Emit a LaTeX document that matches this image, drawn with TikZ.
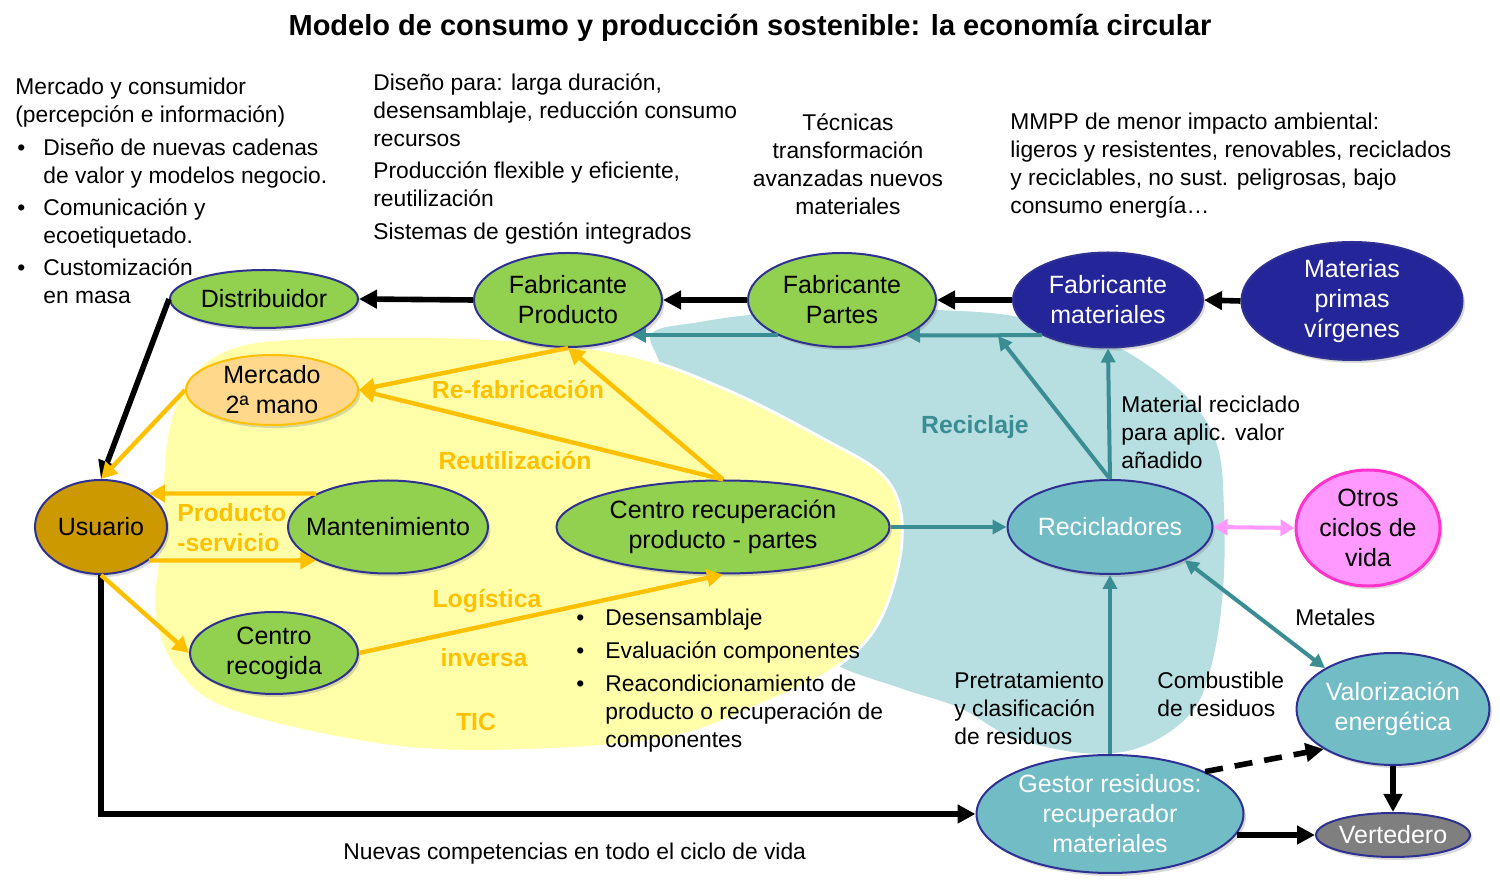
\documentclass[tikz,border=0pt]{standalone}
\usepackage{fontspec}
\setmainfont{Liberation Sans}
\usetikzlibrary{arrows.meta,shapes.geometric,shadows}
\definecolor{green1}{HTML}{92D050}
\definecolor{navy}{HTML}{2E3192}
\definecolor{dblue}{HTML}{25259A}
\definecolor{teal1}{HTML}{71BCC5}
\definecolor{tealline}{HTML}{3A8D93}
\definecolor{orange1}{HTML}{FFC000}
\definecolor{yellowbg}{HTML}{FFFFAA}
\definecolor{bluebg}{HTML}{B7DEE1}
\definecolor{mercfill}{HTML}{FFD88C}
\definecolor{usu}{HTML}{CC9900}
\definecolor{pinkfill}{HTML}{FF99FF}
\definecolor{pinkborder}{HTML}{FF33CC}
\definecolor{grayv}{HTML}{7F7F7F}
\begin{document}
\begin{tikzpicture}[x=0.5pt,y=-0.5pt,
  ell/.style={ellipse,inner sep=0pt,line width=1pt,draw=navy,drop shadow={opacity=0.3,shadow xshift=1.2pt,shadow yshift=-1.5pt}},
  gr/.style={ell,fill=green1},
  db/.style={ell,fill=dblue},
  tl/.style={ell,fill=teal1},
  lbl/.style={inner sep=0pt,align=center,font=\fontsize{12.5}{15}\selectfont},
  wlbl/.style={lbl,text=white},
  txt/.style={inner sep=0pt,align=left,anchor=north west,font=\fontsize{11.4}{13.9}\selectfont},
  ctxt/.style={txt,align=center,anchor=north},
  olbl/.style={inner sep=0pt,font=\fontsize{12.4}{15}\selectfont\bfseries,text=orange1},
  blk/.style={line width=2.8pt,-{Triangle[length=9pt,width=9pt]}},
  tla/.style={line width=2pt,draw=tealline,-{Triangle[length=7pt,width=7pt]}},
  ora/.style={line width=2.2pt,draw=orange1,-{Triangle[length=8pt,width=8.5pt]}},
]
\useasboundingbox (0,0) rectangle (1500,886);

% background blobs
\fill[bluebg] plot[smooth cycle,tension=0.6] coordinates {(652,333) (700,322) (760,314) (850,309) (937,310) (1013,316) (1080,335) (1127,352) (1187,397) (1217,445) (1224,510) (1223,590) (1212,663) (1191,713) (1141,747) (1083,753) (1012,737) (960,708) (900,688) (833,663) (780,620) (700,520) (670,420) (660,365)};
\filldraw[fill=yellowbg,draw=white,line width=1.5pt] plot[smooth cycle,tension=0.6] coordinates {(166,440) (185,385) (225,350) (300,338) (480,338) (620,353) (720,387) (820,437) (887,480) (902,540) (880,620) (835,668) (760,705) (673,737) (540,750) (395,747) (237,713) (178,673) (154,613) (160,540)};

% title
\node[inner sep=0pt,font=\fontsize{14.5}{17}\selectfont\bfseries] (title) at (750,28) {Modelo de consumo y producción sostenible: la economía circular};

% top texts
\node[txt] (t1) at (15,75) {\strut Mercado y consumidor\\(percepción e información)};
\node[txt] (b1) at (17,136) {\strut •};
\node[txt] (t2) at (43,136) {\strut Diseño de nuevas cadenas\\de valor y modelos negocio.};
\node[txt] (b2) at (17,196) {\strut •};
\node[txt] (t3) at (43,196) {\strut Comunicación y\\ecoetiquetado.};
\node[txt] (b3) at (17,256) {\strut •};
\node[txt] (t4) at (43,256) {\strut Customización\\en masa};

\node[txt] (t5) at (373,71) {\strut Diseño para: larga duración,\\desensamblaje, reducción consumo\\recursos};
\node[txt] (t6) at (373,159) {\strut Producción flexible y eficiente,\\reutilización};
\node[txt] (t7) at (373,220) {\strut Sistemas de gestión integrados};
\node[ctxt] (t8) at (848,111) {\strut Técnicas\\transformación\\avanzadas nuevos\\materiales};
\node[txt] (t9) at (1010,110) {\strut MMPP de menor impacto ambiental:\\ligeros y resistentes, renovables, reciclados\\y reciclables, no sust. peligrosas, bajo\\consumo energía…};

% nodes
\node[gr,minimum width=94pt,minimum height=29pt] (dist) at (264,299) {};
\node[lbl] at (dist.center) {Distribuidor};
\node[gr,minimum width=94pt,minimum height=47pt] (fp) at (568,300) {};
\node[lbl] at (fp.center) {Fabricante\\Producto};
\node[gr,minimum width=94pt,minimum height=47pt] (fpa) at (842,300) {};
\node[lbl] at (fpa.center) {Fabricante\\Partes};
\node[db,minimum width=95pt,minimum height=47.5pt] (fm) at (1108,300) {};
\node[wlbl] at (fm.center) {Fabricante\\materiales};
\node[db,minimum width=110.5pt,minimum height=59pt] (mp) at (1352,301) {};
\node[wlbl] at (mp.center) {Materias\\primas\\vírgenes};
\node[ell,fill=mercfill,draw=orange1,minimum width=86pt,minimum height=35pt] (merc) at (272,390) {};
\node[lbl] at (merc.center) {Mercado\\2ª mano};
\node[ell,fill=usu,minimum width=66pt,minimum height=47pt] (usu) at (101,527) {};
\node[lbl] at (usu.center) {Usuario};
\node[gr,minimum width=100pt,minimum height=46.5pt] (mant) at (388,527) {};
\node[lbl] at (mant.center) {Mantenimiento};
\node[gr,minimum width=166.5pt,minimum height=46.5pt] (crec) at (723,527) {};
\node[lbl] at (crec.center) {Centro recuperación\\producto - partes};
\node[gr,minimum width=84pt,minimum height=41pt] (crecog) at (274,653) {};
\node[lbl] at (crecog.center) {Centro\\recogida};
\node[tl,minimum width=102.5pt,minimum height=47pt] (recic) at (1110,527) {};
\node[wlbl] at (recic.center) {Recicladores};
\node[ell,fill=pinkfill,draw=pinkborder,line width=1.5pt,minimum width=72pt,minimum height=58pt] (otros) at (1368,528) {};
\node[lbl] at (otros.center) {Otros\\ciclos de\\vida};
\node[tl,minimum width=96.5pt,minimum height=56pt] (valor) at (1393,709) {};
\node[wlbl] at (valor.center) {Valorización\\energética};
\node[tl,minimum width=133.5pt,minimum height=59pt] (gestor) at (1110,814) {};
\node[wlbl] at (gestor.center) {Gestor residuos:\\recuperador\\materiales};
\node[ell,fill=grayv,minimum width=77pt,minimum height=22pt] (vert) at (1393,835) {};
\node[wlbl] at (vert.center) {Vertedero};

% black arrows
\draw[blk] (fp.west) -- (dist.east);
\draw[blk] (fpa.west) -- (fp.east);
\draw[blk] (fm.west) -- (fpa.east);
\draw[blk] (mp.west) -- (fm.east);
\draw[blk] (dist.west) -- (usu.north);
\draw[blk] (usu.south) |- (gestor.west);
\draw[blk] (valor.south) -- (vert.north);
\draw[blk] (vert.west -| gestor.-9.5) -- (vert.west);
\draw[blk,dash pattern=on 9pt off 6pt] (gestor.24) -- (valor.210);

% teal arrows
\coordinate (rt) at (998,336);
\draw[tla] (fm.208.6) -- (fpa.331);
\draw[tla] (fpa.209) -- (fp.331);
\draw[tla] (recic.north) -- (rt);
\draw[tla] (recic.north) -- (fm.south);
\draw[tla] (crec.east) -- (recic.west);
\draw[tla] (gestor.north) -- (recic.south);
\draw[line width=2pt,draw=tealline,{Triangle[length=7pt,width=7pt]}-{Triangle[length=7pt,width=7pt]}] (recic.-24) -- (valor.149);
\draw[line width=2pt,draw=pinkfill,{Triangle[length=7pt,width=8pt]}-{Triangle[length=7pt,width=8pt]}] (recic.east) -- (otros.west);

% orange arrows
\draw[ora] (fp.south) -- (merc.east);
\draw[ora] (crec.north) -- (merc.east);
\draw[ora] (crec.north) -- (fp.south);
\draw[ora] (merc.west) -- (usu.north);
\draw[ora] (mant.155) -- (usu.35);
\draw[ora] (usu.-35) -- (mant.-155);
\draw[ora] (usu.south) -- (crecog.west);
\draw[ora] (crecog.east) -- (crec.south);

% orange labels
\node[olbl] (l1) at (518,390) {Re-fabricación};
\node[olbl] (l2) at (515,461) {Reutilización};
\node[olbl,anchor=west] (l3) at (177,513) {Producto};
\node[olbl,anchor=west] (l4) at (177,543) {-servicio};
\node[olbl] (l5) at (487,601) {Logística};
\node[olbl] (l6) at (484,658) {inversa};
\node[olbl] (l7) at (476,722) {TIC};
\node[olbl,text=tealline] (l8) at (975,427) {Reciclaje};

% other texts
\node[txt] (t10) at (1121,393) {\strut Material reciclado\\para aplic. valor\\añadido};
\node[txt] (t11) at (1295,606) {\strut Metales};
\node[txt] (t12) at (954,669) {\strut Pretratamiento\\y clasificación\\de residuos};
\node[txt] (t13) at (1157,669) {\strut Combustible\\de residuos};
\node[txt] (t14) at (343,840) {\strut Nuevas competencias en todo el ciclo de vida};
\node[txt] (b4) at (576,606) {\strut •};
\node[txt] (t15) at (605,606) {\strut Desensamblaje};
\node[txt] (b5) at (576,639) {\strut •};
\node[txt] (t16) at (605,639) {\strut Evaluación componentes};
\node[txt] (b6) at (576,672) {\strut •};
\node[txt] (t17) at (605,672) {\strut Reacondicionamiento de\\producto o recuperación de\\componentes};
\end{tikzpicture}
\end{document}
